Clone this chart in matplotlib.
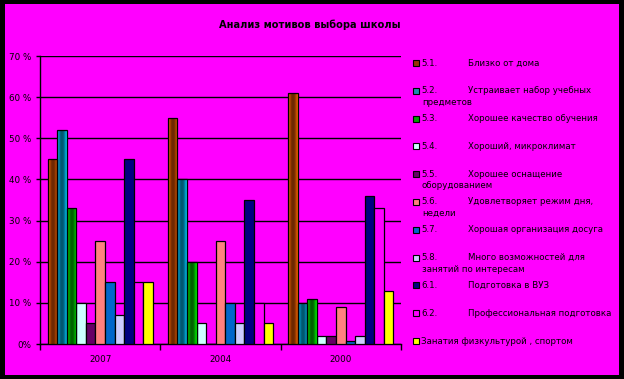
#!/usr/bin/env python3
# -*- coding: utf-8 -*-
"""Анализ мотивов выбора школы - столбчатая диаграмма"""

import numpy as np
import matplotlib
matplotlib.use('Agg')
import matplotlib.pyplot as plt
from matplotlib.patches import Rectangle
from matplotlib.colors import LinearSegmentedColormap

plt.rcParams['font.family'] = ['DejaVu Sans']

# данные
years = ['2007', '2004', '2000']
codes = ['5.1.', '5.2.', '5.3.', '5.4.', '5.5.', '5.6.', '5.7.', '5.8.', '6.1.', '6.2.', '']
motives = [
    'Близко от дома',
    'Устраивает набор учебных\nпредметов',
    'Хорошее качество обучения',
    'Хороший, микроклимат',
    'Хорошее оснащение\nоборудованием',
    'Удовлетворяет режим дня,\nнедели',
    'Хорошая организация досуга',
    'Много возможностей для\nзанятий по интересам',
    'Подготовка в ВУЗ',
    'Профессиональная подготовка',
    'Занатия физкультурой , спортом',
]
# проценты по годам (2007, 2004, 2000)
v51 = [45, 55, 61]
v52 = [52, 40, 10]
v53 = [33, 20, 11]
v54 = [10, 5, 2]
v55 = [5, 0, 2]
v56 = [25, 25, 9]
v57 = [15, 10, 0.7]
v58 = [7, 5, 2]
v61 = [45, 35, 36]
v62 = [15, 10, 33]
vsport = [15, 5, 13]
series = [v51, v52, v53, v54, v55, v56, v57, v58, v61, v62, vsport]

colors = ['#993300', '#1a8fb0', '#00a000', '#ccffff', '#660066', '#ff8080',
          '#0066cc', '#ccccff', '#000080', '#ff00ff', '#ffff00']
# столбцы с градиентом (как в Excel)
gradients = {
    0: ['#ff6a00', '#c24d00', '#7a2e00', '#6a2600', '#7a2e00', '#b84800', '#ff6a00'],
    1: ['#00d8ff', '#0096c0', '#006080', '#005468', '#006080', '#0090b8', '#00d0ff'],
    2: ['#00ff00', '#00b800', '#007000', '#005c00', '#007000', '#00b000', '#00ff00'],
}

BG = '#ff00ff'
W, H = 624, 379

fig = plt.figure(figsize=(W / 100, H / 100), dpi=100)
fig.patch.set_facecolor('black')
fig.add_artist(Rectangle((5 / W, 4 / H), 614 / W, 371 / H, transform=fig.transFigure,
                         facecolor=BG, edgecolor='none', zorder=0))

ax = fig.add_axes([40 / W, 35 / H, 361 / W, 288 / H])
ax.set_facecolor(BG)
ax.patch.set_alpha(0)

x = np.arange(len(years))
bw = 0.0795
grad = np.linspace(0, 1, 64).reshape(1, -1)
for i, (vals, c) in enumerate(zip(series, colors)):
    bars = ax.bar(x + (i - 5) * bw, vals, bw, color=c, edgecolor='black',
                  linewidth=0.9, zorder=3)
    if i in gradients:
        cmap = LinearSegmentedColormap.from_list('g%d' % i, gradients[i])
        for b in bars:
            bx, by = b.get_x(), b.get_y()
            im = ax.imshow(grad, cmap=cmap, aspect='auto', zorder=3.5,
                           interpolation='bilinear', origin='lower',
                           extent=[bx, bx + b.get_width(), by, by + b.get_height()])
            im.set_clip_path(b)
            b.set_facecolor('none')
            b.set_zorder(4)

ax.set_xlim(-0.5, 2.5)
ax.set_ylim(0, 70)
ax.set_yticks(range(0, 71, 10))
ax.set_yticklabels(['0%'] + ['%d %%' % v for v in range(10, 71, 10)])
ax.set_xticks(x)
ax.set_xticklabels(years)
ax.set_xticks([-0.5, 0.5, 1.5, 2.5], minor=True)
ax.tick_params(axis='x', which='major', length=0, pad=8)
ax.tick_params(axis='x', which='minor', length=4, width=1, direction='out')
ax.tick_params(axis='y', length=3, width=1, direction='out', pad=3)
ax.tick_params(labelsize=6.3, colors='black')
ax.grid(True, axis='y', color='black', linewidth=1, zorder=1)
ax.set_axisbelow(True)
for s in ['top', 'right']:
    ax.spines[s].set_visible(False)
ax.spines['left'].set_linewidth(1)
ax.spines['bottom'].set_linewidth(1)

fig.text(310 / W, 1 - 25 / H, 'Анализ мотивов выбора школы', ha='center', va='center',
         fontsize=7.1, fontweight='bold')

# легенда
fs = 6.2
for i, (code, text, c) in enumerate(zip(codes, motives, colors)):
    yc = 63 + 27.8 * i
    fig.add_artist(Rectangle((413 / W, 1 - (yc + 3) / H), 6 / W, 6 / H,
                             transform=fig.transFigure, facecolor=c,
                             edgecolor='black', linewidth=0.8))
    lines = text.split('\n')
    if code:
        fig.text(421 / W, 1 - yc / H, code, va='center', fontsize=fs)
        fig.text(468 / W, 1 - yc / H, lines[0], va='center', fontsize=fs)
    else:
        fig.text(421 / W, 1 - yc / H, lines[0], va='center', fontsize=fs)
    if len(lines) > 1:
        fig.text(422 / W, 1 - (yc + 11.5) / H, lines[1], va='center', fontsize=fs)

fig.savefig('out.png', dpi=100, facecolor=fig.get_facecolor())
